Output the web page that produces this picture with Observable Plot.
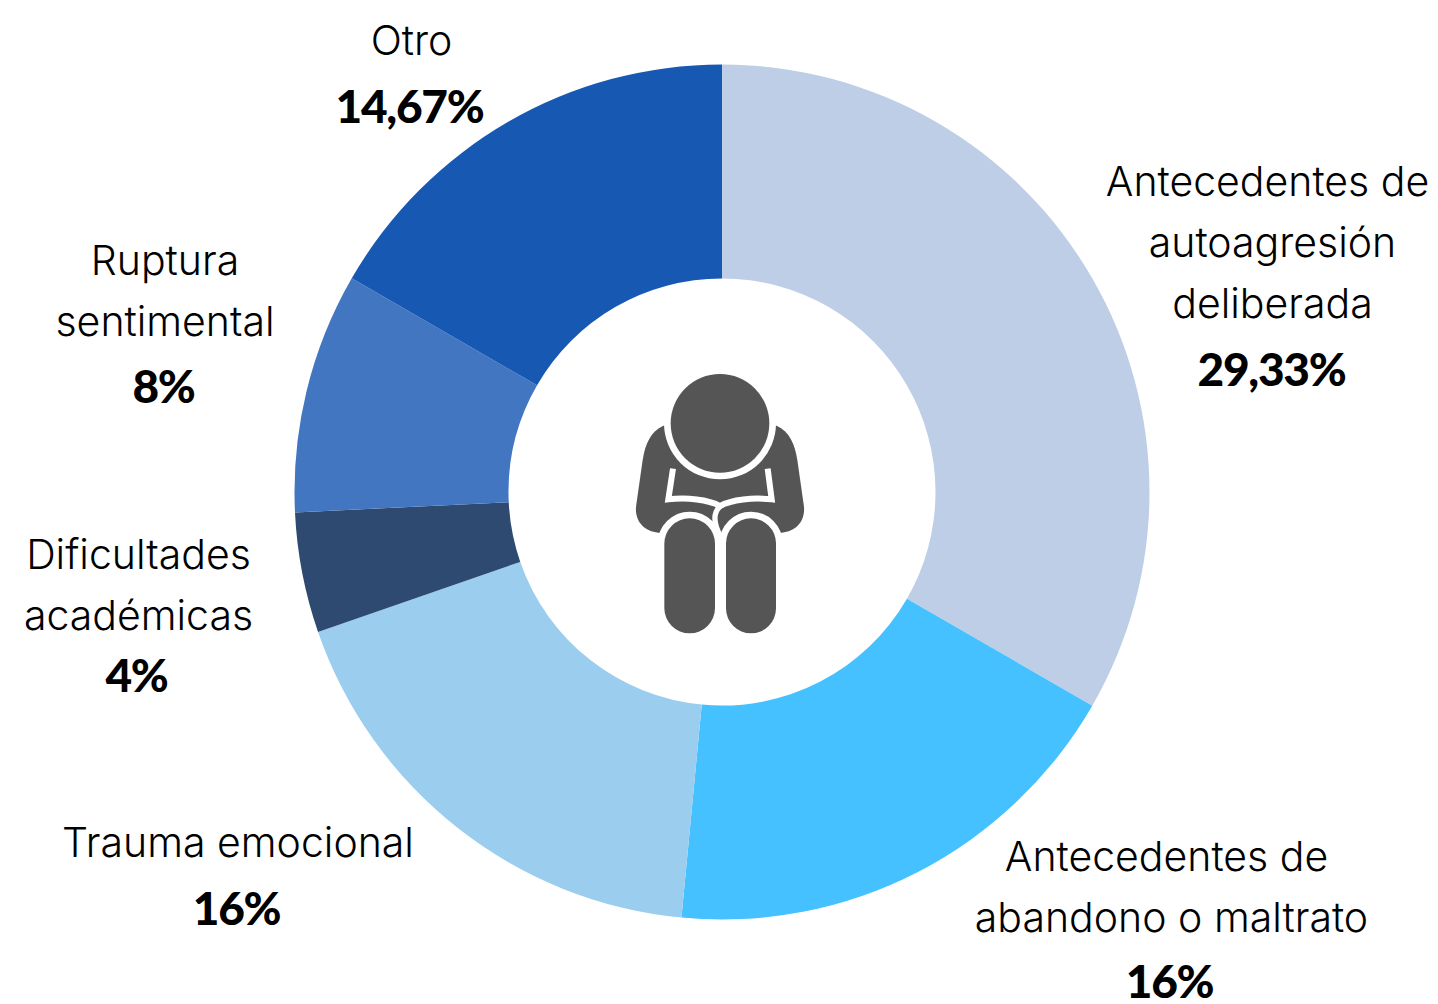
<!DOCTYPE html>
<html><head><meta charset="utf-8">
<script src="https://cdn.jsdelivr.net/npm/d3@7"></script>
<script src="https://cdn.jsdelivr.net/npm/@observablehq/plot@0.6"></script>
<style>html,body{margin:0;padding:0;background:#fff;overflow:hidden}svg{display:block}
.val text{letter-spacing:-1.3px}</style>
</head><body><div id="chart"></div>
<script>
const categories = [
  ["Antecedentes de","autoagresión","deliberada"],
  ["Antecedentes de","abandono o maltrato"],
  ["Trauma emocional"],
  ["Dificultades","académicas"],
  ["Ruptura","sentimental"],
  ["Otro"]
];
const shares = [29.33,16,16,4,8,14.67];
const colors = ["#BDCEE6","#46C1FF","#9ACDEE","#2E4A70","#4276C1","#1759B2"];

// label placement, separate from the data: [x, y of each name line, y of the value]
const namePlace = [
  [[1267,182],[1272,243],[1272,304]],
  [[1166,857],[1171,918]],
  [[237.5,843]],
  [[138,555],[138,616]],
  [[164.5,261],[164.5,322]],
  [[411,41]]
];
const valuePlace = [[1271,371],[1169,983],[236,910],[136,677],[163,388],[409,108]];

const centre = [722,492], outerR = 427.5, innerR = 213.5;
const NAME_FONT = "Inter", VALUE_FONT = "Lato";

const nameRows = categories.flatMap((lines,i)=>lines.map((t,j)=>({t,x:namePlace[i][j][0],y:namePlace[i][j][1]})));
const valueRows = shares.map((v,i)=>({t:String(v).replace(".",",")+"%",x:valuePlace[i][0],y:valuePlace[i][1]}));

function donut(index, {x,y}) {
  const g = d3.create("svg:g").attr("transform",`translate(${x(centre[0])},${y(centre[1])})`);
  const arcs = d3.pie().sort(null)(shares);
  const arc = d3.arc().innerRadius(innerR).outerRadius(outerR);
  g.selectAll("path").data(arcs).join("path")
    .attr("d",arc).attr("fill",(d,i)=>colors[i]);
  return g.node();
}
function person(index, {x,y}) {
  const dark="#555555";
  const g = d3.create("svg:g").attr("transform",`translate(${x(620)},${y(360)}) scale(${1/3})`);
  g.append("path").attr("fill",dark)
   .attr("d","M130,197 C92,215 76,250 68,300 L48,440 C44,490 80,518 122,518 L478,518 C520,518 556,490 552,440 L532,300 C524,250 508,215 470,197 Z");
  g.append("circle").attr("cx",300).attr("cy",190).attr("r",168).attr("fill","#fff");
  g.append("circle").attr("cx",300).attr("cy",190).attr("r",148).attr("fill",dark);
  g.append("path").attr("fill","none").attr("stroke","#fff").attr("stroke-width",18)
   .attr("d","M159,326 L145,418 C200,412 265,418 300,438 C335,418 400,412 455,418 L443,326");
  g.append("path").attr("fill","none").attr("stroke","#fff").attr("stroke-width",16)
   .attr("d","M312,432 C285,445 272,475 302,530");
  for (const [l,w] of [[133,152],[318,150]]) {
    g.append("rect").attr("x",l).attr("y",475).attr("width",w).attr("height",345).attr("rx",w/2)
     .attr("fill",dark).attr("stroke","#fff").attr("stroke-width",40).attr("paint-order","stroke");
  }
  return g.node();
}

const plot = Plot.plot({
  width:1438, height:1004, margin:0,
  x:{domain:[0,1438],range:[0,1438],axis:null},
  y:{domain:[0,1004],range:[0,1004],axis:null},
  style:{background:"#fff"},
  marks:[
    donut, person,
    Plot.text(nameRows,{x:"x",y:"y",text:"t",fontSize:41,fontWeight:300,fontFamily:NAME_FONT,fill:"#000",lineAnchor:"middle",textAnchor:"middle"}),
    Plot.text(valueRows,{x:"x",y:"y",text:"t",fontSize:46,fontWeight:900,fontFamily:VALUE_FONT,fill:"#000",lineAnchor:"middle",textAnchor:"middle",className:"val"})
  ]
});
document.getElementById("chart").append(plot);
</script></body></html>
